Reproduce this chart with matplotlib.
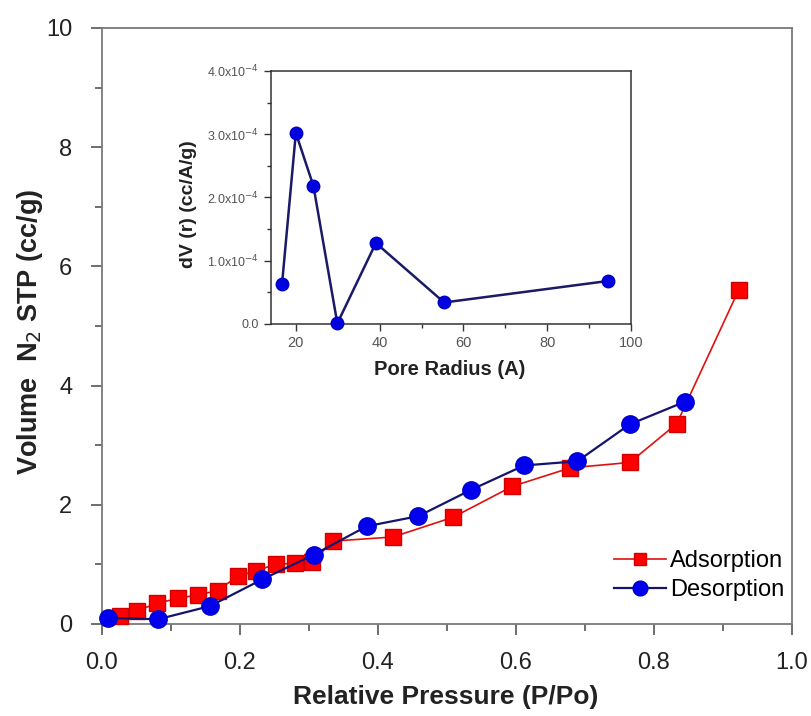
import matplotlib
matplotlib.use("Agg")
import matplotlib.pyplot as plt
from matplotlib.ticker import MultipleLocator, FuncFormatter

# N2 isotherm
ads_p = [0.027, 0.051, 0.081, 0.111, 0.140, 0.168, 0.197, 0.223, 0.252, 0.280, 0.305,
         0.335, 0.422, 0.509, 0.595, 0.679, 0.765, 0.833, 0.923]
ads_v = [0.13, 0.22, 0.35, 0.43, 0.49, 0.56, 0.80, 0.89, 1.00, 1.02, 1.04,
         1.39, 1.46, 1.79, 2.31, 2.62, 2.71, 3.36, 5.61]
des_p = [0.009, 0.082, 0.157, 0.233, 0.307, 0.384, 0.459, 0.535, 0.612, 0.689, 0.765, 0.845]
des_v = [0.10, 0.08, 0.30, 0.75, 1.16, 1.64, 1.81, 2.25, 2.66, 2.73, 3.35, 3.73]

# pore size distribution
radius = [16.7, 20.0, 24.2, 29.9, 39.1, 55.4, 94.5]
dv = [0.63e-4, 3.02e-4, 2.18e-4, 0.01e-4, 1.28e-4, 0.34e-4, 0.68e-4]

arial = ["Liberation Sans", "DejaVu Sans"]
plt.rcParams["font.family"] = arial

fig = plt.figure(figsize=(8.11, 7.16), dpi=100)
ax = fig.add_axes([0.1252, 0.1285, 0.8514, 0.8324])

ax.plot(ads_p, ads_v, color="#e01010", lw=1.2, marker="s", ms=11,
        mfc="#ff0000", mec="#d00000", label="Adsorption", clip_on=False, zorder=3)
ax.plot(des_p, des_v, color="#14146e", lw=1.6, marker="o", ms=12.5,
        mfc="#0000ee", mec="#0000cc", label="Desorption", clip_on=False, zorder=4)

ax.set_xlim(0, 1.0)
ax.set_ylim(0, 10)
ax.xaxis.set_major_locator(MultipleLocator(0.2))
ax.xaxis.set_minor_locator(MultipleLocator(0.1))
ax.yaxis.set_major_locator(MultipleLocator(2))
ax.yaxis.set_minor_locator(MultipleLocator(1))
ax.xaxis.set_major_formatter(FuncFormatter(lambda v, p: "%.1f" % v))
for s in ax.spines.values():
    s.set_color("#7a7a7a")
    s.set_linewidth(1.3)
ax.tick_params(which="major", direction="out", length=8, width=1.2, color="#555555",
               labelsize=17, labelcolor="#222222")
ax.tick_params(axis="x", which="major", pad=12)
ax.tick_params(axis="y", which="major", pad=13)
ax.tick_params(which="minor", direction="out", length=5, width=1.2, color="#555555")

ax.set_xlabel("Relative Pressure (P/Po)", fontsize=19, fontweight="bold",
              color="#222222", va="top")
ax.xaxis.set_label_coords(0.499, -0.102)
ax.set_ylabel("Volume  N$_2$ STP (cc/g)", fontsize=19.5, fontweight="bold",
              color="#222222")
ax.yaxis.set_label_coords(-0.082, 0.49)

ax.legend(loc="lower right", bbox_to_anchor=(1.003, 0.022), frameon=False,
          handlelength=2.2, handletextpad=0.2, labelspacing=0.3, borderaxespad=0,
          markerscale=0.85, prop={"size": 17})

# inset: pore radius distribution
ins = fig.add_axes([0.3338, 0.5475, 0.4443, 0.3534])
ins.plot(radius, dv, color="#1a1a66", lw=1.8, marker="o", ms=9,
         mfc="#0000e0", mec="#0000c0", clip_on=False, zorder=3)
ins.set_xlim(14, 100)
ins.set_ylim(0, 4e-4)
ins.xaxis.set_major_locator(MultipleLocator(20))
ins.xaxis.set_minor_locator(MultipleLocator(10))
ins.yaxis.set_major_locator(MultipleLocator(1e-4))
ins.yaxis.set_minor_locator(MultipleLocator(0.5e-4))


def sci_fmt(v, pos):
    if abs(v) < 1e-12:
        return "0.0"
    return "%.1fx10$^{-4}$" % (v / 1e-4)


ins.yaxis.set_major_formatter(FuncFormatter(sci_fmt))
for s in ins.spines.values():
    s.set_color("#333333")
    s.set_linewidth(1.1)
ins.tick_params(which="major", direction="out", length=5, width=1, color="#333333",
                labelsize=9, labelcolor="#555555")
ins.tick_params(axis="x", labelsize=10.5)
ins.tick_params(which="minor", direction="out", length=3, width=1, color="#333333")
ins.set_xlabel("Pore Radius (A)", fontsize=14.5, fontweight="bold",
               color="#222222", va="top")
ins.xaxis.set_label_coords(0.498, -0.142)
ins.set_ylabel("dV (r) (cc/A/g)", fontsize=14, fontweight="bold",
               color="#222222")
ins.yaxis.set_label_coords(-0.205, 0.472)

fig.savefig("out.png", dpi=100)
